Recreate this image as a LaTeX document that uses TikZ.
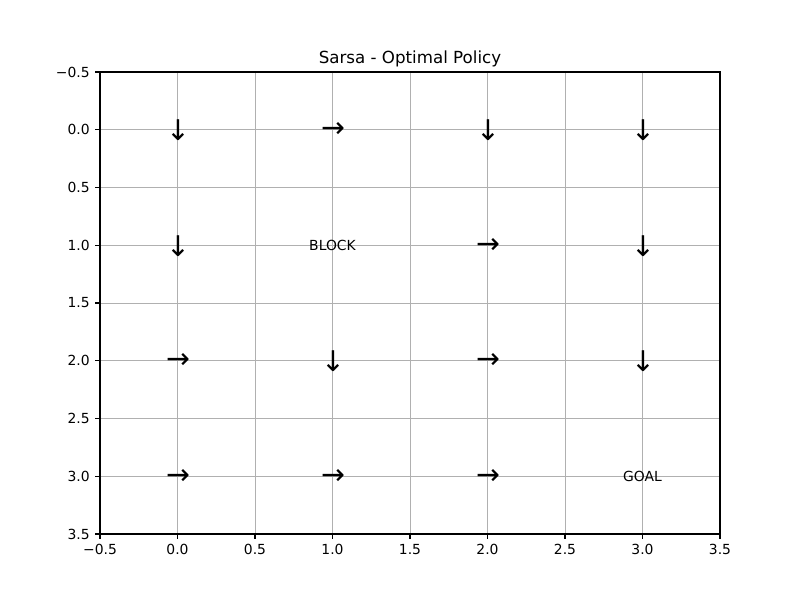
\documentclass[tikz,border=0pt]{standalone}
\usepackage{fontspec}
\setmainfont{DejaVu Sans}
\begin{document}
\begin{tikzpicture}[x=1pt,y=1pt,
  gridline/.style={draw=black!31, line width=0.9pt},
  spine/.style={draw=black, line width=1.11pt},
  tick/.style={draw=black, line width=1.11pt},
  ticklab/.style={inner sep=0pt, font=\fontsize{13.89}{16}\selectfont},
  arrowglyph/.style={inner sep=0pt, font=\fontsize{28.5}{30}\selectfont},
  celltext/.style={inner sep=0pt, font=\fontsize{13.89}{16}\selectfont},
  titletext/.style={inner sep=0pt, anchor=base, font=\fontsize{16.67}{19}\selectfont}]
\useasboundingbox (0,0) rectangle (800,600);
\begin{scope}[shift={(177.5pt,470.25pt)}, x=155pt, y=-115.5pt]
  % grid
  \foreach \v in {0,0.5,1,1.5,2,2.5,3} {
    \draw[gridline] (\v,-0.5) -- (\v,3.5);
    \draw[gridline] (-0.5,\v) -- (3.5,\v);
  }
  % spines
  \coordinate (tl) at (-0.5,-0.5);
  \coordinate (br) at (3.5,3.5);
  \draw[spine] (tl) rectangle (br);
  % ticks and labels
  \foreach \v/\t [count=\i] in {-0.5/{−0.5},0/{0.0},0.5/{0.5},1/{1.0},1.5/{1.5},2/{2.0},2.5/{2.5},3/{3.0},3.5/{3.5}} {
    \coordinate (xt\i) at (\v,3.5);
    \draw[tick] (xt\i) -- ++(0,-4.86pt) node[ticklab, anchor=north, yshift=-4.86pt] (xl\i) {\t};
    \coordinate (yt\i) at (-0.5,\v);
    \draw[tick] (yt\i) -- ++(-4.86pt,0) node[ticklab, anchor=east, xshift=-4.86pt] (yl\i) {\t};
  }
  % policy
  \begin{scope}[xshift=0.8pt, yshift=-0.6pt]
  \node[arrowglyph] (a00) at (0,0) {↓};
  \node[arrowglyph] (a10) at (1,0) {→};
  \node[arrowglyph] (a20) at (2,0) {↓};
  \node[arrowglyph] (a30) at (3,0) {↓};
  \node[arrowglyph] (a01) at (0,1) {↓};
  \node[arrowglyph] (a21) at (2,1) {→};
  \node[arrowglyph] (a31) at (3,1) {↓};
  \node[arrowglyph] (a02) at (0,2) {→};
  \node[arrowglyph] (a12) at (1,2) {↓};
  \node[arrowglyph] (a22) at (2,2) {→};
  \node[arrowglyph] (a32) at (3,2) {↓};
  \node[arrowglyph] (a03) at (0,3) {→};
  \node[arrowglyph] (a13) at (1,3) {→};
  \node[arrowglyph] (a23) at (2,3) {→};
  \end{scope}
  \node[celltext] (block) at (1,1) {BLOCK};
  \node[celltext] (goal) at (3,3) {GOAL};
  \node[titletext] (title) at (1.5,-0.5) [yshift=8.3pt] {Sarsa - Optimal Policy};
\end{scope}
\end{tikzpicture}
\end{document}
